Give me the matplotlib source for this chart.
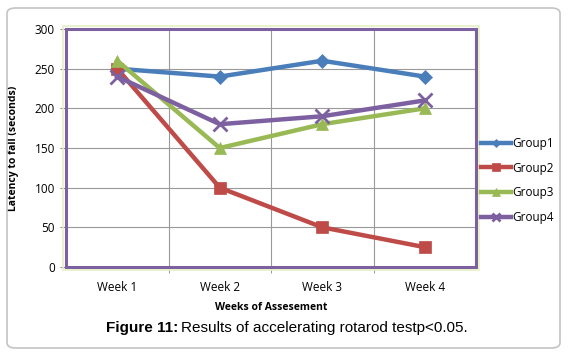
import matplotlib
matplotlib.use('Agg')
import matplotlib.pyplot as plt
from matplotlib.patches import FancyBboxPatch, Rectangle

weeks = ['Week 1', 'Week 2', 'Week 3', 'Week 4']
group1 = [250, 240, 260, 240]
group2 = [250, 100, 50, 25]
group3 = [260, 150, 180, 200]
group4 = [240, 180, 190, 210]

series = [('Group1', group1, '#4A7EBB', 'D', 7),
          ('Group2', group2, '#BE4B48', 's', 9),
          ('Group3', group3, '#98B954', '^', 9),
          ('Group4', group4, '#7D60A0', 'x', 10)]

plt.rcParams['font.family'] = ['Open Sans', 'DejaVu Sans']

fig = plt.figure(figsize=(5.72, 3.52), dpi=100)
W, H = 572.0, 352.0

# outer rounded frame
fig.patches.append(FancyBboxPatch((7 / W, 4 / H), 553 / W, 340 / H,
                                  boxstyle='round,pad=0,rounding_size=0.015',
                                  transform=fig.transFigure, fill=False,
                                  edgecolor='#c4c4c4', linewidth=1.2))

ax = fig.add_axes([66 / W, 1 - 267 / H, 410 / W, 238 / H])
x = list(range(1, len(weeks) + 1))
for name, vals, col, mk, ms in series:
    ax.plot(x, vals, color=col, linewidth=3.2, marker=mk, markersize=ms,
            markeredgewidth=2 if mk == 'x' else 0.5, markeredgecolor=col,
            label=name, zorder=3)

ax.set_xlim(0.5, 4.5)
ax.set_ylim(0, 300)
ax.set_yticks(range(0, 301, 50))
ax.set_xticks(x)
ax.set_xticklabels(weeks, fontsize=8.5)
ax.set_xticks([1.5, 2.5, 3.5], minor=True)
ax.tick_params(axis='x', which='major', length=0, pad=10)
ax.tick_params(axis='x', which='minor', length=4, color='#888888')
ax.tick_params(axis='y', labelsize=8.5, length=4, color='#888888', pad=4)
ax.grid(True, axis='y', color='#999999', linewidth=0.8)
ax.grid(True, axis='x', which='minor', color='#999999', linewidth=0.8)
for s in ax.spines.values():
    s.set_color('#7D60A0')
    s.set_linewidth(2.2)

# light green border around plot area
fig.patches.append(Rectangle((63 / W, 1 - 270 / H), 416 / W, 244 / H,
                             transform=fig.transFigure, fill=False,
                             edgecolor='#E6EFC4', linewidth=1.2, zorder=0))

ax.set_ylabel('Latency to fall (seconds)', fontsize=7.5, fontweight='bold', labelpad=11)
ax.set_xlabel('Weeks of Assesement', fontsize=7.5, fontweight='bold', labelpad=6)

fig.legend(loc='upper left', bbox_to_anchor=(476 / W, 1 - 132 / H), frameon=False,
           fontsize=8.5, handlelength=2.6, handletextpad=0.1, labelspacing=1.0,
           markerscale=0.6, borderaxespad=0)

cap_font = ['Liberation Sans', 'DejaVu Sans']
fig.text(178 / W, 1 - 328 / H, 'Figure 11:', ha='right', va='center',
         fontsize=11, fontweight='bold', family=cap_font)
fig.text(181 / W, 1 - 328 / H, 'Results of accelerating rotarod testp<0.05.',
         ha='left', va='center', fontsize=11, family=cap_font)

fig.savefig('out.png', dpi=100)
